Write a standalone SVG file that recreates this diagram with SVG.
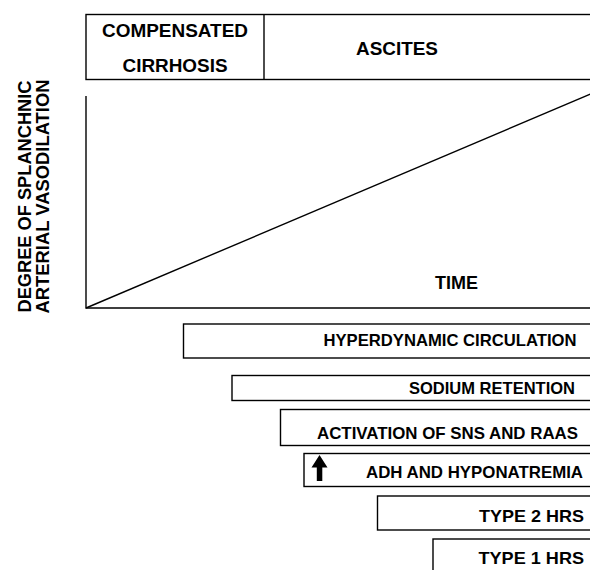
<svg xmlns="http://www.w3.org/2000/svg" width="590" height="570" viewBox="0 0 590 570">
<style>
.box{fill:#fff;stroke:#000;stroke-width:1.4}
.ln{fill:none;stroke:#000;stroke-width:1.4}
.t{font-family:"Liberation Sans",Arial,sans-serif;font-weight:bold;font-size:16.5px;fill:#000}
.big{font-size:17.5px}
</style>
<rect width="590" height="570" fill="#fff"/>
<g id="phase-header">
<rect class="box" x="86" y="14.5" width="520" height="65"/>
<line class="ln" x1="264" y1="14.5" x2="264" y2="79.5"/>
<text class="t big" x="102" y="37" textLength="146" lengthAdjust="spacingAndGlyphs">COMPENSATED</text>
<text class="t big" x="122.5" y="72" textLength="105" lengthAdjust="spacingAndGlyphs">CIRRHOSIS</text>
<text class="t big" x="356" y="55" textLength="82" lengthAdjust="spacingAndGlyphs">ASCITES</text>
</g>
<g id="y-axis-label">
<text class="t big" transform="rotate(-90)" x="-196.5" y="31" text-anchor="middle" textLength="232" lengthAdjust="spacingAndGlyphs">DEGREE OF SPLANCHNIC</text>
<text class="t big" transform="rotate(-90)" x="-196.5" y="49" text-anchor="middle" textLength="234" lengthAdjust="spacingAndGlyphs">ARTERIAL VASODILATION</text>
</g>
<g id="chart">
<polyline class="ln" points="86,96 86,308 600,308"/>
<line class="ln" x1="86" y1="308" x2="592" y2="93.5"/>
<text class="t big" x="435" y="289" textLength="43" lengthAdjust="spacingAndGlyphs">TIME</text>
</g>
<g id="hyperdynamic-circulation">
<rect class="box" x="183.5" y="324" width="420" height="34"/>
<text class="t" x="323.5" y="345.5" textLength="253" lengthAdjust="spacingAndGlyphs">HYPERDYNAMIC CIRCULATION</text>
</g>
<g id="sodium-retention">
<rect class="box" x="232" y="375.5" width="370" height="25"/>
<text class="t" x="409" y="393.5" textLength="166" lengthAdjust="spacingAndGlyphs">SODIUM RETENTION</text>
</g>
<g id="activation-sns-raas">
<rect class="box" x="280.5" y="409.5" width="320" height="36"/>
<text class="t" x="317" y="439" textLength="261" lengthAdjust="spacingAndGlyphs">ACTIVATION OF SNS AND RAAS</text>
</g>
<g id="adh-hyponatremia">
<rect class="box" x="304" y="453.5" width="300" height="33"/>
<polygon points="319.5,455 311.5,467.5 316.8,467.5 316.8,481 322.3,481 322.3,467.5 327.5,467.5" fill="#000"/>
<text class="t" x="366" y="477.5" textLength="217" lengthAdjust="spacingAndGlyphs">ADH AND HYPONATREMIA</text>
</g>
<g id="type2-hrs">
<rect class="box" x="377.5" y="496" width="230" height="34"/>
<text class="t" x="479" y="522" textLength="105" lengthAdjust="spacingAndGlyphs">TYPE 2 HRS</text>
</g>
<g id="type1-hrs">
<rect class="box" x="433" y="539" width="200" height="50"/>
<text class="t" x="478.5" y="563.5" textLength="105.5" lengthAdjust="spacingAndGlyphs">TYPE 1 HRS</text>
</g>
<g id="connectors"></g>
</svg>
